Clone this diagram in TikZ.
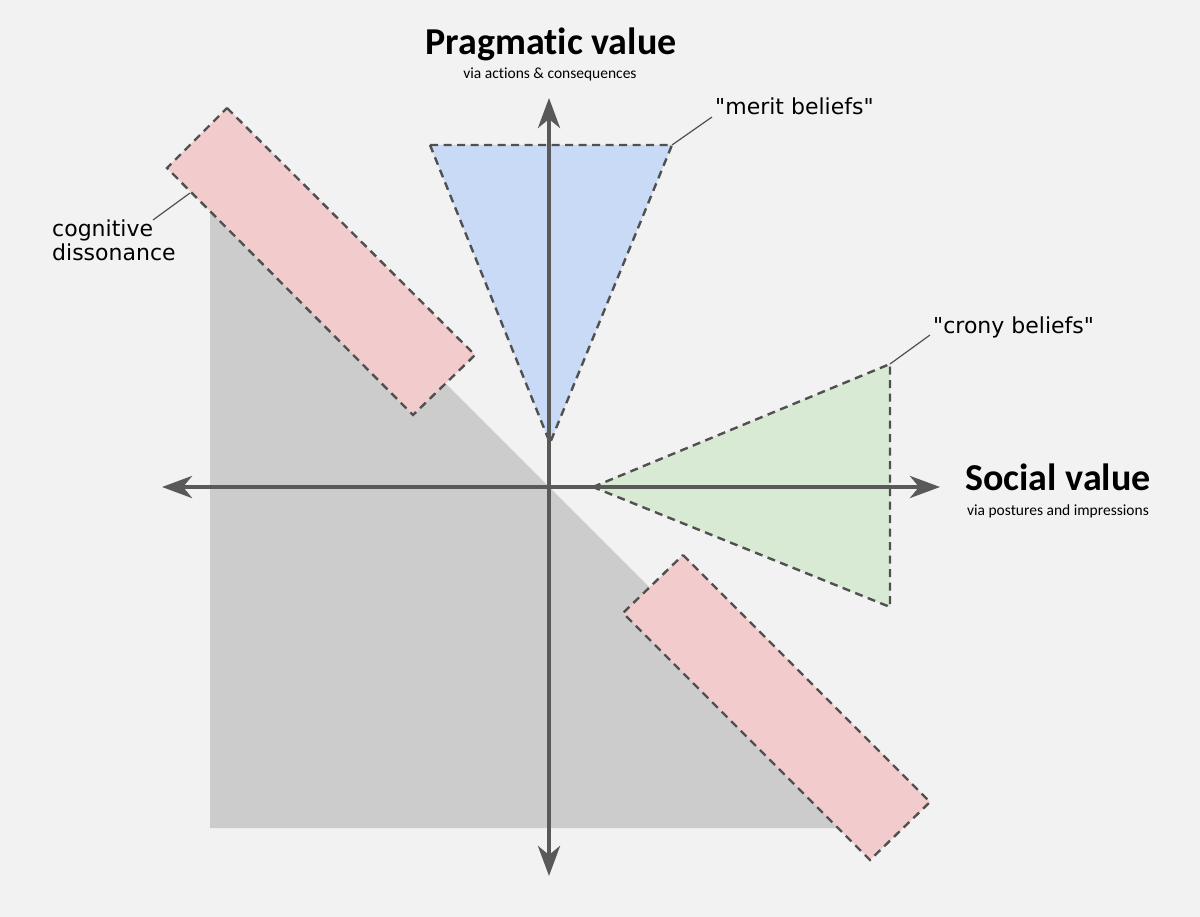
\documentclass[tikz,border=0pt]{standalone}
\usepackage{fontspec}
\setmainfont[Ligatures={TeXReset,NoCommon}]{DejaVu Sans}
\newfontfamily\titlefont[Ligatures={NoCommon,NoRare}]{Carlito}
\usetikzlibrary{arrows.meta}
\definecolor{bgc}{HTML}{F2F2F2}
\definecolor{grayreg}{HTML}{CCCCCC}
\definecolor{axisc}{HTML}{595959}
\definecolor{dashc}{HTML}{505050}
\definecolor{bluef}{HTML}{C9DAF6}
\definecolor{greenf}{HTML}{D9EAD4}
\definecolor{pinkf}{HTML}{F2CCCD}
\newcommand\straightdq{\symbol{34}}
\tikzset{
  region/.style={draw=dashc, line width=2.4pt, dash pattern=on 8pt off 5.5pt, line join=miter},
  axisline/.style={draw=axisc, line width=4.5pt, {Stealth[length=30pt,width=22pt,inset=9pt]}-{Stealth[length=30pt,width=22pt,inset=9pt]}},
  leader/.style={draw=dashc, line width=1.2pt},
  bigtitle/.style={font=\titlefont\bfseries\fontsize{38}{44}\selectfont, inner sep=0pt, anchor=base},
  subtitle/.style={font=\titlefont\fontsize{15.5}{18}\selectfont, inner sep=0pt, anchor=base},
  lbl/.style={font=\fontsize{22}{24}\selectfont, inner sep=0pt, text=black},
}
\begin{document}
\begin{tikzpicture}[x=1pt,y=-1pt]
\useasboundingbox (0,0) rectangle (1200,917);
\fill[bgc] (0,0) rectangle (1200,917);
% gray region
\fill[grayreg] (210,148) -- (210,828) -- (890,828) -- cycle;
% coordinates
\coordinate (O) at (549,487);
\coordinate (mL) at (430,145);
\coordinate (mR) at (672,145);
\coordinate (mA) at (550,443);
\coordinate (cA) at (593,487);
\coordinate (cT) at (890,364);
\coordinate (cB) at (890,607);
% merit triangle
\path[region, fill=bluef] (mL) -- (mR) -- (mA) -- cycle;
% crony triangle
\path[region, fill=greenf] (cA) -- (cT) -- (cB) -- cycle;
% dissonance rectangles
\path[region, fill=pinkf] (227,108) -- (475,355) -- (413,415) -- (167,168) -- cycle;
\path[region, fill=pinkf] (683,555) -- (930,802) -- (870,860) -- (623,613) -- cycle;
% axes
\coordinate (xl) at (162,487);
\coordinate (xr) at (940,487);
\coordinate (yt) at (549,98);
\coordinate (yb) at (549,876);
\draw[axisline] (xl) -- (xr);
\draw[axisline] (yb) -- (yt);
% titles
\node[bigtitle] (pt) at (551,55) {Pragmatic value};
\node[subtitle] (ps) at (550,79) {via actions \& consequences};
\node[bigtitle] (st) at (1058,490) {Social value};
\node[subtitle] (ss) at (1058,515) {via postures and impressions};
% labels
\node[lbl, anchor=base west] (merit) at (715,115) {\straightdq merit beliefs\straightdq};
\node[lbl, anchor=base west] (crony) at (933,334) {\straightdq crony beliefs\straightdq};
\node[lbl, anchor=base west, align=left] (cog) at (52,261) {cognitive\\dissonance};
% leaders
\coordinate (mlead) at (712,117);
\coordinate (clead) at (930,335);
\coordinate (glead) at (153,220);
\coordinate (gstart) at (190,193);
\draw[leader] (mR) -- (mlead);
\draw[leader] (cT) -- (clead);
\draw[leader] (gstart) -- (glead);
\end{tikzpicture}
\end{document}
